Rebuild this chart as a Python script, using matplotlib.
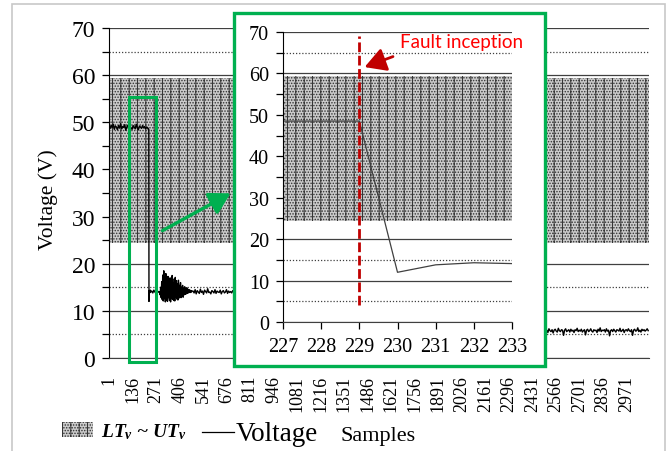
import numpy as np
import matplotlib
matplotlib.use("Agg")
import matplotlib.pyplot as plt
from matplotlib.patches import Rectangle, FancyArrowPatch
from matplotlib.ticker import MultipleLocator

plt.rcParams["font.family"] = "Liberation Serif"
plt.rcParams["mathtext.fontset"] = "custom"
plt.rcParams["mathtext.it"] = "Liberation Serif:italic:bold"
plt.rcParams["mathtext.rm"] = "Liberation Serif:bold"
plt.rcParams["hatch.linewidth"] = 0.7

# ── Values ────────────────────────────────────────────────────────────────────
N_SAMPLES = 3100
x_tick_labels = [1, 136, 271, 406, 541, 676, 811, 946, 1081, 1216, 1351, 1486,
                 1621, 1756, 1891, 2026, 2161, 2296, 2431, 2566, 2701, 2836, 2971]

lt_v = 24.5   # lower threshold
ut_v = 59.5   # upper threshold

# pre-fault, every 6 samples from sample 1
pre_fault_v = [49.1, 48.7, 49.4, 48.9, 49.6, 48.5, 49.2, 49.0, 48.4, 49.3,
               48.8, 49.7, 48.6, 49.1, 48.9, 49.5, 48.3, 49.0, 49.4, 48.7,
               49.2, 48.8, 48.5, 49.3, 49.0, 48.6, 49.6, 48.9, 48.4, 49.2,
               49.0, 48.7, 49.3, 48.8, 49.1, 48.6, 49.0, 48.8]
# around fault inception, sample by sample
fault_samples = [224, 225, 226, 227, 228, 229, 230, 231, 232, 233, 234, 235,
                 236, 237, 238, 239, 240]
fault_v = [48.8, 48.6, 48.5, 48.5, 48.5, 48.5, 12.0, 13.8, 14.3, 14.1, 14.0,
           14.3, 13.9, 14.2, 14.4, 13.9, 14.1]
# after fault, every 6 samples from 246
calm_v = [14.2, 13.8, 14.4, 14.0, 13.7, 14.3, 14.1, 13.9]
# oscillation, every 3 samples from 291
osc_v = [14.0, 13.4, 15.0, 12.8, 16.2, 12.4, 17.6, 12.1, 18.5, 12.6, 17.2,
         11.9, 17.9, 12.3, 16.4, 12.0, 17.3, 12.8, 16.1, 12.2, 17.0, 11.9,
         16.6, 12.6, 17.5, 12.4, 16.0, 12.2, 16.8, 12.1, 17.1, 12.9, 16.4,
         12.5, 15.7, 12.3, 16.5, 12.7, 15.4, 13.1, 16.0, 12.8, 15.0, 13.3,
         15.4, 12.9, 14.8, 13.4, 15.1, 13.5, 14.7, 13.6, 14.9, 13.7, 14.6,
         13.8, 14.5, 13.9, 14.4, 13.9, 14.3, 14.0, 14.2]
# settled, every 6 samples from 483
settle_v = [14.2, 13.8, 14.5, 13.6, 14.3, 14.0, 13.7, 14.6, 13.9, 14.2,
            13.5, 14.4, 14.1, 13.8, 14.7, 13.9, 14.0, 13.6, 14.3, 14.1,
            13.8, 14.5, 13.7, 14.2, 14.0, 13.9, 14.4, 13.6, 14.1, 14.3,
            13.8, 14.0, 14.5, 13.7, 14.2, 13.9, 14.1, 13.8, 14.3, 14.0]
# behind the zoom box (not visible)
hidden_samples = [1000, 1500, 1520, 2200]
hidden_v = [14.0, 13.9, 6.0, 5.8]
# late part, every 6 samples from 2490
late_v = [5.8, 5.5, 6.1, 5.7, 5.9, 5.4, 6.2, 5.8, 5.6, 6.0, 5.3, 5.9, 6.1,
          5.7, 5.5, 6.3, 5.8, 5.6, 6.0, 5.9, 4.8, 5.9, 6.2, 5.6, 5.8, 6.0,
          5.5, 6.1, 5.7, 5.9, 5.4, 6.0, 5.8, 6.3, 5.6, 5.9, 5.7, 6.1, 5.5,
          5.8, 6.0, 4.9, 5.9, 6.1, 5.6, 5.8, 6.2, 5.7, 5.5, 6.0, 5.8, 5.9,
          5.4, 6.1, 5.7, 6.4, 5.6, 5.9, 5.8, 6.0, 5.5, 6.2, 5.7, 5.9, 4.7,
          5.8, 6.0, 5.6, 6.1, 5.8, 5.5, 6.0, 5.9, 5.7, 6.3, 5.6, 5.8, 6.1,
          5.4, 5.9, 6.0, 5.7, 6.2, 5.8, 5.6, 6.0, 4.8, 5.9, 6.1, 5.7, 5.8,
          6.4, 5.6, 5.9, 5.5, 6.1, 5.8, 6.0, 5.7, 5.9, 6.2, 5.8]

inset_ticks = [227, 228, 229, 230, 231, 232, 233]
fault_sample = 229


def seg(start, step, vals):
    return np.arange(start, start + step * len(vals), step)


samples = np.concatenate([seg(1, 6, pre_fault_v), fault_samples, seg(246, 6, calm_v),
                          seg(291, 3, osc_v), seg(483, 6, settle_v),
                          hidden_samples, seg(2490, 6, late_v)])
voltage = np.concatenate([pre_fault_v, fault_v, calm_v, osc_v, settle_v,
                          hidden_v, late_v])

W, H = 669, 452
GREEN = "#00b050"
BAND = dict(facecolor="#cbcbcb", edgecolor="#333333", hatch="||......", linewidth=0)


def fx(x):
    return x / W


def fy(y):
    return 1 - y / H


fig = plt.figure(figsize=(W / 100, H / 100), dpi=100)

# outer light frame
fig.add_artist(Rectangle((fx(12), -0.05), fx(653), fy(5) + 0.05, transform=fig.transFigure,
                         fill=False, edgecolor="#c8c8c8", linewidth=1.2))


def style_axes(ax, tick_size):
    ax.set_ylim(0, 70)
    ax.yaxis.set_major_locator(MultipleLocator(10))
    ax.yaxis.set_minor_locator(MultipleLocator(5))
    ax.grid(which="major", axis="y", color="#404040", linewidth=0.9, zorder=0)
    ax.grid(which="minor", axis="y", color="#404040", linewidth=0.9,
            linestyle=(0, (1, 1.5)), zorder=0)
    ax.grid(axis="x", visible=False)
    for s in ["top", "right"]:
        ax.spines[s].set_visible(False)
    ax.spines["left"].set_color("black")
    ax.spines["bottom"].set_color("#404040")
    ax.tick_params(axis="y", which="both", direction="out", length=5, width=0.9,
                   labelsize=tick_size, pad=5)
    ax.set_axisbelow(True)


# ── Main chart ────────────────────────────────────────────────────────────────
ax = fig.add_axes([fx(109), fy(359), 540 / W, 330 / H])
style_axes(ax, 17)
ax.set_xlim(0.5, N_SAMPLES + 0.5)
ax.fill_between([0.5, N_SAMPLES + 0.5], lt_v, ut_v, zorder=1, **BAND)
ax.plot(samples, voltage, color="black", linewidth=1.0, zorder=2)
ax.set_xticks(x_tick_labels)
ax.set_xticklabels([str(t) for t in x_tick_labels], rotation=90, fontsize=13)
ax.tick_params(axis="x", length=0, pad=12)

# small zoom marker
ax.add_patch(Rectangle((116, -0.85), 155, 56.25, fill=False, edgecolor=GREEN,
                       linewidth=2.2, clip_on=False, zorder=5))

fig.text(fx(48), fy(200), "Voltage (V)", rotation=90, ha="center", va="center",
         fontsize=15.5)

# ── Zoom box + inset ──────────────────────────────────────────────────────────
fig.add_artist(Rectangle((fx(234), fy(367)), (545 - 234) / W, (367 - 14) / H,
                         transform=fig.transFigure, facecolor="white",
                         edgecolor=GREEN, linewidth=2.4, zorder=3))

axi = fig.add_axes([fx(283), fy(323), 229 / W, 290 / H], zorder=4)
axi.patch.set_alpha(0)
style_axes(axi, 14.5)
axi.set_xlim(inset_ticks[0], inset_ticks[-1])
axi.set_xticks(inset_ticks)
axi.tick_params(axis="x", direction="out", length=5, width=0.9, labelsize=14.5, pad=6)
axi.fill_between([inset_ticks[0], inset_ticks[-1]], lt_v, ut_v, zorder=1, **BAND)
axi.plot(samples, voltage, color="#404040", linewidth=0.9, zorder=2)
axi.plot([fault_sample, fault_sample], [4, 69], color="#c00000", linewidth=2,
         linestyle=(0, (3.5, 1.3)), zorder=3, clip_on=False)
axi.annotate("", xy=(229.07, 61.3), xytext=(229.95, 64.3),
             arrowprops=dict(arrowstyle="-|>,head_length=0.8,head_width=0.45",
                             color="#c00000", lw=2, mutation_scale=16),
             annotation_clip=False, zorder=4)
axi.text(230.07, 67.6, "Fault inception", color="#ff0000", fontsize=13.5,
         family="Lato", ha="left", va="center", zorder=4)

# arrow from marker to zoom box
fig.add_artist(FancyArrowPatch((fx(160), fy(233)), (fx(233), fy(193)),
                               transform=fig.transFigure, color=GREEN, lw=2.4,
                               arrowstyle="-|>,head_length=0.7,head_width=0.4",
                               mutation_scale=18, zorder=5))

# ── Legend row ────────────────────────────────────────────────────────────────
fig.add_artist(Rectangle((fx(62), fy(438)), 31 / W, 15 / H, transform=fig.transFigure,
                         **BAND))
fig.text(fx(101), fy(432), r"$LT_v$ ~ $UT_v$", fontsize=14, fontweight="bold",
         style="italic", ha="left", va="center")
fig.add_artist(plt.Line2D([fx(202), fx(234)], [fy(433), fy(433)],
                          transform=fig.transFigure, color="black", linewidth=0.9))
fig.text(fx(236), fy(441), "Voltage", fontsize=19.5, ha="left", va="baseline")
fig.text(fx(341), fy(441), "Samples", fontsize=16, ha="left", va="baseline")

fig.savefig("out.png", dpi=100)
